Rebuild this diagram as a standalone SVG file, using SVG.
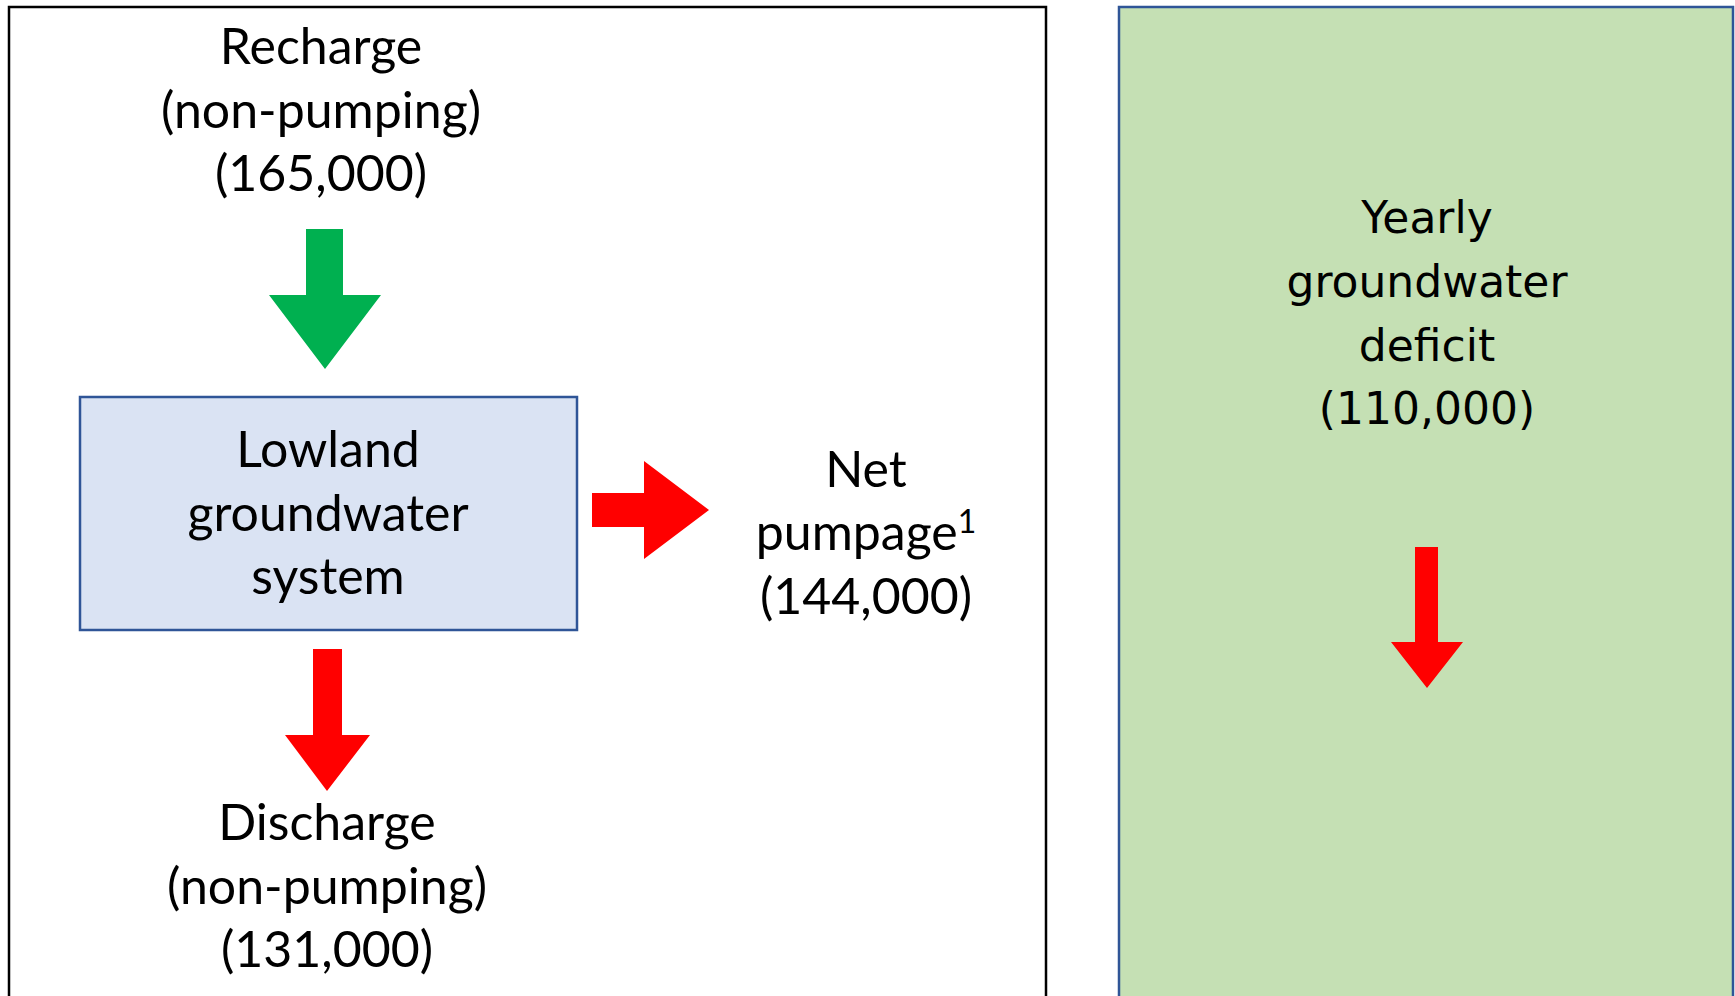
<svg xmlns="http://www.w3.org/2000/svg" width="1735" height="996" viewBox="0 0 1735 996">
<style>
.t{font-family:Lato,"Noto Sans",sans-serif;font-size:50px;fill:#000;text-anchor:middle}
.y{font-family:"DejaVu Sans",sans-serif;font-size:44px;fill:#000;text-anchor:middle}
.red{fill:#FF0000}
.grn{fill:#00B050}
</style>
<rect width="1735" height="996" fill="#fff"/>
<g id="panel-left"><rect x="9" y="7" width="1037" height="1000" fill="#fff" stroke="#000" stroke-width="2.5"/></g>
<g id="panel-right"><rect x="1119" y="7" width="614" height="1000" fill="#C5E0B4" stroke="#2F5597" stroke-width="2.5"/>
<text class="y"><tspan x="1427" y="233">Yearly</tspan><tspan x="1427" y="297">groundwater</tspan><tspan x="1427" y="361">deficit</tspan><tspan x="1427" y="424">(110,000)</tspan></text></g>
<g id="recharge"><text class="t"><tspan x="321" y="64">Recharge</tspan><tspan x="321" y="128">(non-pumping)</tspan><tspan x="321" y="191">(165,000)</tspan></text></g>
<g id="lowland"><rect x="80" y="397" width="497" height="233" fill="#DAE3F3" stroke="#2F5597" stroke-width="2.5"/>
<text class="t"><tspan x="328" y="467">Lowland</tspan><tspan x="328" y="531">groundwater</tspan><tspan x="328" y="594">system</tspan></text></g>
<g id="netpumpage"><text class="t"><tspan x="866" y="487">Net</tspan><tspan x="866" y="550">pumpage<tspan font-size="32" dy="-17">1</tspan></tspan><tspan x="866" y="614">(144,000)</tspan></text></g>
<g id="discharge"><text class="t"><tspan x="327" y="840">Discharge</tspan><tspan x="327" y="904">(non-pumping)</tspan><tspan x="327" y="967">(131,000)</tspan></text></g>
<g id="connectors">
<polygon class="grn" points="306,229 343,229 343,295 381,295 325,369 269,295 306,295"/>
<polygon class="red" points="592,493 644,493 644,461 709,510 644,559 644,527 592,527"/>
<polygon class="red" points="313,649 342,649 342,735 370,735 327,791 285,735 313,735"/>
<polygon class="red" points="1415,547 1438,547 1438,642 1463,642 1427,688 1391,642 1415,642"/>
</g>
</svg>
